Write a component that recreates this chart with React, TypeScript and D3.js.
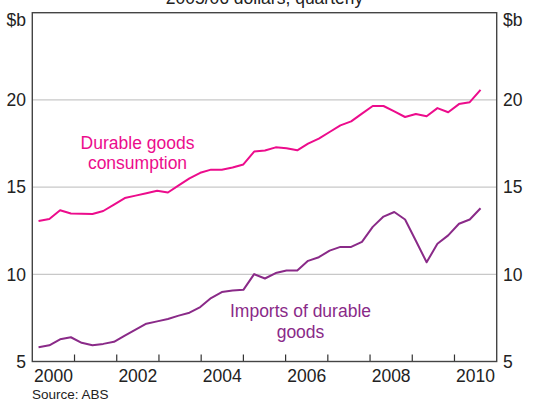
import React from "react";
import * as d3 from "d3";

const W = 534;
const H = 402;

const title = "2005/06 dollars, quarterly";
const unitLabel = "$b";
const sourceText = "Source: ABS";

const yTicks = [5, 10, 15, 20];
const xTickYears = [2001, 2002, 2003, 2004, 2005, 2006, 2007, 2008, 2009, 2010];
const xLabelYears = [2000, 2002, 2004, 2006, 2008, 2010];

const quarters: string[] = [];
for (let y = 2000; y <= 2010; y++) {
  for (let q = 1; q <= 4; q++) {
    if (y === 2010 && q > 2) break;
    quarters.push(`${y}Q${q}`);
  }
}

const consumption = [
  13.06, 13.17, 13.67, 13.49, 13.47, 13.46, 13.63, 14.0, 14.37, 14.51, 14.65,
  14.79, 14.69, 15.1, 15.5, 15.82, 16.0, 16.0, 16.12, 16.3, 17.04, 17.1, 17.28,
  17.23, 17.11, 17.49, 17.78, 18.16, 18.54, 18.77, 19.21, 19.65, 19.65, 19.34,
  19.02, 19.19, 19.06, 19.53, 19.29, 19.76, 19.87, 20.58,
];

const imports = [
  5.82, 5.93, 6.27, 6.39, 6.07, 5.93, 6.01, 6.13, 6.49, 6.83, 7.17, 7.3, 7.44,
  7.63, 7.8, 8.12, 8.64, 8.98, 9.07, 9.11, 10.01, 9.76, 10.07, 10.22, 10.22,
  10.77, 10.98, 11.36, 11.57, 11.57, 11.86, 12.72, 13.31, 13.57, 13.14, 11.92,
  10.69, 11.75, 12.23, 12.9, 13.14, 13.79,
];

const PINK = "#ec0c8c";
const PURPLE = "#8a2a88";
const FONT = "'Liberation Sans', Arial, sans-serif";

export default function App() {
  const left = 32.3;
  const right = 496.7;
  const top = 12.7;
  const bottom = 361.5;

  const y = d3.scaleLinear().domain([5, 25]).range([bottom, top]);
  const xYear = d3.scaleLinear().domain([2000, 2011]).range([left, right]);
  const xq = d3
    .scalePoint<string>()
    .domain(quarters)
    .range([xYear(2000.148), xYear(2010.617)]);

  const line = d3
    .line<number>()
    .x((_, i) => xq(quarters[i]) as number)
    .y((d) => y(d));

  const fs = 17.5;

  return (
    <svg
      width={W}
      height={H}
      style={{ position: "absolute", left: 0, top: 0, display: "block" }}
      fontFamily={FONT}
    >
      <rect width={W} height={H} fill="#fff" />
      {/* gridlines */}
      {[10, 15, 20].map((v) => (
        <line
          key={v}
          x1={left}
          x2={right}
          y1={y(v)}
          y2={y(v)}
          stroke="#c8c8c8"
          strokeWidth={1.2}
        />
      ))}
      {/* title (cut at top) */}
      <text x={264.5} y={4} textAnchor="middle" fontSize={fs} fill="#222">
        {title}
      </text>
      {/* unit labels */}
      <text x={26} y={26} textAnchor="end" fontSize={fs} fill="#222">
        {unitLabel}
      </text>
      <text x={503} y={26} textAnchor="start" fontSize={fs} fill="#222">
        {unitLabel}
      </text>
      {/* y tick labels */}
      {yTicks.map((v) => (
        <g key={v}>
          <text
            x={26}
            y={y(v)}
            dy="0.36em"
            textAnchor="end"
            fontSize={fs}
            fill="#222"
          >
            {v}
          </text>
          <text
            x={503}
            y={y(v)}
            dy="0.36em"
            textAnchor="start"
            fontSize={fs}
            fill="#222"
          >
            {v}
          </text>
        </g>
      ))}
      {/* x ticks */}
      {xTickYears.map((yr) => (
        <line
          key={yr}
          x1={xYear(yr)}
          x2={xYear(yr)}
          y1={bottom}
          y2={bottom - 7}
          stroke="#333"
          strokeWidth={1.2}
        />
      ))}
      {xLabelYears.map((yr) => (
        <text
          key={yr}
          x={xYear(yr + 0.5)}
          y={382}
          textAnchor="middle"
          fontSize={fs}
          fill="#222"
        >
          {yr}
        </text>
      ))}
      {/* lines */}
      <path
        d={line(consumption) ?? ""}
        fill="none"
        stroke={PINK}
        strokeWidth={2}
        strokeLinejoin="round"
      />
      <path
        d={line(imports) ?? ""}
        fill="none"
        stroke={PURPLE}
        strokeWidth={2}
        strokeLinejoin="round"
      />
      {/* series labels */}
      <text x={137.5} y={149} textAnchor="middle" fontSize={fs} fill={PINK}>
        <tspan x={137.5}>Durable goods</tspan>
        <tspan x={137.5} dy={19.5}>
          consumption
        </tspan>
      </text>
      <text x={300.5} y={317} textAnchor="middle" fontSize={fs} fill={PURPLE}>
        <tspan x={300.5}>Imports of durable</tspan>
        <tspan x={300.5} dy={20.5}>
          goods
        </tspan>
      </text>
      {/* frame */}
      <rect
        x={left}
        y={top}
        width={right - left}
        height={bottom - top}
        fill="none"
        stroke="#444"
        strokeWidth={1.4}
      />
      {/* source */}
      <text x={32} y={399} fontSize={13.5} fill="#222">
        {sourceText}
      </text>
    </svg>
  );
}
